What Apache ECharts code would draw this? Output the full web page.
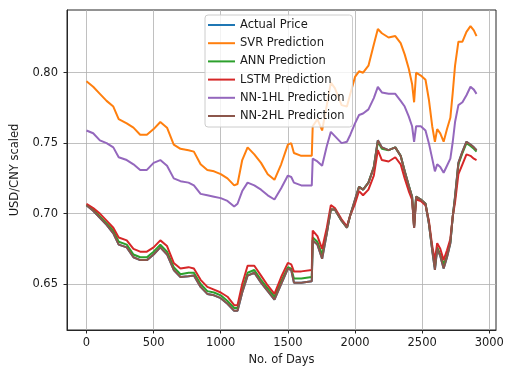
<!DOCTYPE html>
<html>
<head>
<meta charset="utf-8">
<script src="https://cdn.jsdelivr.net/npm/echarts@6/dist/echarts.min.js"></script>
<style>
  html, body { margin: 0; padding: 0; background: #fff; }
  #chart { width: 511px; height: 372px; }
</style>
</head>
<body>
<div id="chart"></div>
<script>
// Sample days shared by every series
const days = [0, 50, 100, 150, 200, 240, 300, 350, 400, 450, 500, 550, 600, 650, 700, 760, 800, 850, 900, 950,
  1000, 1050, 1100, 1125, 1160, 1200, 1250, 1300, 1350, 1400, 1450, 1500, 1525, 1545, 1600, 1678, 1685, 1720, 1755, 1790,
  1820, 1850, 1900, 1940, 1965, 2000, 2030, 2060, 2100, 2140, 2170, 2200, 2250, 2300, 2340, 2370, 2400, 2425, 2440, 2455,
  2490, 2525, 2550, 2575, 2595, 2612, 2635, 2660, 2685, 2710, 2728, 2745, 2770, 2800, 2830, 2860, 2885, 2905];

const actualPrice = [0.706, 0.702, 0.697, 0.692, 0.686, 0.678, 0.676, 0.669, 0.667, 0.667, 0.671, 0.676, 0.671, 0.660, 0.655, 0.6555, 0.656, 0.648, 0.643, 0.642,
  0.640, 0.636, 0.631, 0.631, 0.644, 0.656, 0.658, 0.651, 0.645, 0.639, 0.650, 0.661, 0.660, 0.651, 0.651, 0.652, 0.681, 0.678, 0.668, 0.686,
  0.703, 0.703, 0.695, 0.690, 0.699, 0.710, 0.719, 0.717, 0.722, 0.733, 0.752, 0.747, 0.745, 0.747, 0.741, 0.730, 0.720, 0.712, 0.690, 0.712,
  0.710, 0.707, 0.693, 0.674, 0.660, 0.675, 0.670, 0.661, 0.669, 0.679, 0.698, 0.712, 0.736, 0.744, 0.751, 0.749, 0.747, 0.745];

const svrPred = [0.794, 0.790, 0.785, 0.780, 0.776, 0.767, 0.764, 0.761, 0.756, 0.756, 0.760, 0.765, 0.761, 0.749, 0.746, 0.745, 0.744, 0.735, 0.731, 0.730,
  0.728, 0.725, 0.720, 0.721, 0.738, 0.747, 0.742, 0.736, 0.728, 0.724, 0.735, 0.749, 0.750, 0.743, 0.741, 0.741, 0.762, 0.767, 0.759, 0.777,
  0.793, 0.789, 0.777, 0.776, 0.785, 0.797, 0.801, 0.800, 0.805, 0.820, 0.831, 0.828, 0.825, 0.826, 0.821, 0.813, 0.803, 0.792, 0.779, 0.800,
  0.798, 0.795, 0.781, 0.762, 0.751, 0.760, 0.757, 0.751, 0.760, 0.768, 0.786, 0.805, 0.822, 0.822, 0.829, 0.833, 0.830, 0.826];

const annPred = [0.706, 0.703, 0.698, 0.693, 0.688, 0.680, 0.678, 0.671, 0.669, 0.669, 0.673, 0.678, 0.673, 0.662, 0.657, 0.658, 0.658, 0.650, 0.645, 0.644,
  0.642, 0.638, 0.633, 0.633, 0.646, 0.658, 0.660, 0.653, 0.647, 0.641, 0.652, 0.662, 0.661, 0.654, 0.654, 0.655, 0.683, 0.680, 0.671, 0.687,
  0.703, 0.703, 0.695, 0.690, 0.699, 0.709, 0.719, 0.717, 0.722, 0.733, 0.751, 0.746, 0.745, 0.747, 0.741, 0.730, 0.720, 0.712, 0.691, 0.712,
  0.710, 0.707, 0.694, 0.675, 0.662, 0.676, 0.671, 0.664, 0.670, 0.680, 0.698, 0.711, 0.735, 0.743, 0.750, 0.748, 0.746, 0.744];

const lstmPred = [0.707, 0.704, 0.700, 0.695, 0.690, 0.683, 0.681, 0.675, 0.673, 0.673, 0.676, 0.681, 0.677, 0.665, 0.661, 0.662, 0.661, 0.653, 0.648, 0.646,
  0.644, 0.641, 0.635, 0.635, 0.650, 0.663, 0.663, 0.656, 0.649, 0.643, 0.655, 0.665, 0.664, 0.659, 0.659, 0.660, 0.688, 0.684, 0.675, 0.690,
  0.706, 0.704, 0.696, 0.691, 0.699, 0.707, 0.716, 0.713, 0.717, 0.727, 0.745, 0.738, 0.737, 0.740, 0.735, 0.725, 0.716, 0.710, 0.690, 0.710,
  0.709, 0.706, 0.695, 0.677, 0.667, 0.679, 0.675, 0.667, 0.674, 0.682, 0.698, 0.708, 0.728, 0.735, 0.742, 0.741, 0.739, 0.738];

const nn1hlPred = [0.759, 0.757, 0.752, 0.750, 0.747, 0.740, 0.738, 0.735, 0.731, 0.731, 0.736, 0.738, 0.734, 0.725, 0.723, 0.722, 0.720, 0.714, 0.713, 0.712,
  0.711, 0.709, 0.705, 0.707, 0.716, 0.722, 0.720, 0.717, 0.713, 0.710, 0.718, 0.727, 0.726, 0.722, 0.720, 0.720, 0.739, 0.737, 0.734, 0.748,
  0.758, 0.755, 0.750, 0.751, 0.756, 0.764, 0.770, 0.771, 0.774, 0.782, 0.790, 0.786, 0.785, 0.785, 0.780, 0.776, 0.769, 0.762, 0.751, 0.762,
  0.762, 0.759, 0.750, 0.739, 0.730, 0.735, 0.733, 0.729, 0.734, 0.739, 0.751, 0.765, 0.777, 0.779, 0.784, 0.790, 0.788, 0.785];

const nn2hlPred = [0.706, 0.702, 0.697, 0.692, 0.686, 0.678, 0.676, 0.669, 0.667, 0.667, 0.671, 0.676, 0.671, 0.660, 0.655, 0.6555, 0.656, 0.648, 0.643, 0.642,
  0.640, 0.636, 0.631, 0.631, 0.644, 0.656, 0.658, 0.651, 0.645, 0.639, 0.650, 0.661, 0.660, 0.651, 0.651, 0.652, 0.681, 0.678, 0.668, 0.686,
  0.703, 0.703, 0.695, 0.690, 0.699, 0.710, 0.719, 0.717, 0.722, 0.733, 0.752, 0.747, 0.745, 0.747, 0.741, 0.730, 0.720, 0.712, 0.690, 0.712,
  0.710, 0.707, 0.693, 0.674, 0.660, 0.675, 0.670, 0.661, 0.669, 0.679, 0.698, 0.712, 0.736, 0.744, 0.751, 0.749, 0.747, 0.745];

// Tick positions on each axis
const xTicks = [0, 500, 1000, 1500, 2000, 2500, 3000];
const yTicks = [0.65, 0.70, 0.75, 0.80];

const seriesNames = ['Actual Price', 'SVR Prediction', 'ANN Prediction', 'LSTM Prediction', 'NN-1HL Prediction', 'NN-2HL Prediction'];
const seriesValues = [actualPrice, svrPred, annPred, lstmPred, nn1hlPred, nn2hlPred];
const seriesColors = ['#1f77b4', '#ff7f0e', '#2ca02c', '#d62728', '#9467bd', '#8c564b'];

const FONT = 'DejaVu Sans';
const TEXT = '#1a1a1a';

const chart = echarts.init(document.getElementById('chart'), null, { renderer: 'canvas' });

function isMultiple(v, step) {
  const r = v / step;
  return Math.abs(r - Math.round(r)) < 1e-6;
}

chart.setOption({
  animation: false,
  backgroundColor: '#ffffff',
  grid: {
    left: 67, right: 15, top: 10, bottom: 42,
    show: true, borderColor: '#262626', borderWidth: 1, backgroundColor: 'transparent'
  },
  legend: {
    orient: 'vertical',
    left: 205, top: 15,
    icon: 'rect',
    itemWidth: 27, itemHeight: 2,
    itemGap: 4.2,
    padding: [3, 8, 4, 3],
    backgroundColor: 'rgba(255,255,255,0.8)',
    borderColor: '#cccccc', borderWidth: 1, borderRadius: 3,
    textStyle: { fontFamily: FONT, fontSize: 11.5, color: TEXT, lineHeight: 14 },
    data: seriesNames
  },
  xAxis: {
    type: 'value',
    min: -145, max: 3050,
    name: 'No. of Days',
    nameLocation: 'middle', nameGap: 22,
    nameTextStyle: { fontFamily: FONT, fontSize: 11.5, color: TEXT },
    axisLine: { show: true, onZero: false, lineStyle: { color: '#262626', width: 1 } },
    axisTick: { show: true, length: 3.5, customValues: xTicks, lineStyle: { color: '#262626', width: 1 } },
    axisLabel: {
      margin: 7, fontFamily: FONT, fontSize: 11.5, color: TEXT, customValues: xTicks,
      formatter: v => isMultiple(v, 500) ? String(Math.round(v)) : ''
    },
    splitLine: { show: true, lineStyle: { color: '#b0b0b0', width: 0.8 } }
  },
  yAxis: {
    type: 'value',
    min: 0.6174, max: 0.8445,
    name: 'USD/CNY scaled',
    nameLocation: 'middle', nameGap: 41,
    nameTextStyle: { fontFamily: FONT, fontSize: 11.5, color: TEXT },
    axisLine: { show: true, onZero: false, lineStyle: { color: '#262626', width: 1 } },
    axisTick: { show: true, length: 3.5, customValues: yTicks, lineStyle: { color: '#262626', width: 1 } },
    axisLabel: {
      margin: 9, fontFamily: FONT, fontSize: 11.5, color: TEXT, customValues: yTicks,
      formatter: v => isMultiple(v, 0.05) ? v.toFixed(2) : ''
    },
    splitLine: { show: true, lineStyle: { color: '#b0b0b0', width: 0.8 } }
  },
  series: seriesNames.map((name, i) => ({
    name: name,
    type: 'line',
    showSymbol: false,
    symbol: 'none',
    color: seriesColors[i],
    lineStyle: { width: 2, color: seriesColors[i] },
    data: days.map((d, k) => [d, seriesValues[i][k]])
  }))
});
</script>
</body>
</html>
